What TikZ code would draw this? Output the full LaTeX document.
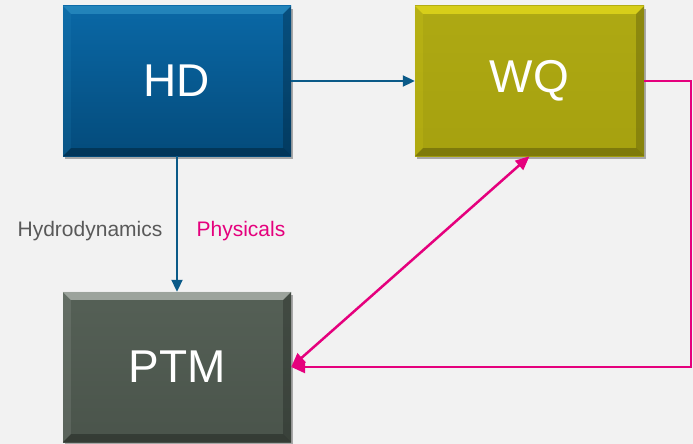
\documentclass[tikz,border=0pt]{standalone}
\usepackage{fontspec}
\setmainfont{Liberation Sans}
\usetikzlibrary{arrows.meta,shadows}
\definecolor{bg}{HTML}{F2F2F2}
\definecolor{hdtop}{HTML}{0A68A6}
\definecolor{hdbot}{HTML}{044B7B}
\definecolor{wqtop}{HTML}{AEA913}
\definecolor{wqbot}{HTML}{A6A10F}
\definecolor{ptmtop}{HTML}{556056}
\definecolor{ptmbot}{HTML}{4A544B}
\definecolor{bluearrow}{HTML}{0B5A88}
\definecolor{pinkarrow}{HTML}{E5007D}
\definecolor{labelgray}{HTML}{595959}
\newcommand\bevelbox[3]{%
  \fill[#2,opacity=0.7] (#1.north west) -- (#1.north east) -- ([xshift=-8pt,yshift=-8pt]#1.north east) -- ([xshift=8pt,yshift=-8pt]#1.north west) -- cycle;
  \fill[#2,opacity=0.15] (#1.north west) -- ([xshift=8pt,yshift=-8pt]#1.north west) -- ([xshift=8pt,yshift=8pt]#1.south west) -- (#1.south west) -- cycle;
  \fill[#3,opacity=0.3] (#1.north east) -- ([xshift=-8pt,yshift=-8pt]#1.north east) -- ([xshift=-8pt,yshift=8pt]#1.south east) -- (#1.south east) -- cycle;
  \fill[#3,opacity=0.4] (#1.south west) -- ([xshift=8pt,yshift=8pt]#1.south west) -- ([xshift=-8pt,yshift=8pt]#1.south east) -- (#1.south east) -- cycle;
}
\tikzset{
  modelbox/.style={minimum width=228pt, minimum height=150pt, inner sep=0pt,
    drop shadow={shadow xshift=2pt, shadow yshift=-3pt, opacity=0.3, fill=black}},
  modeltext/.style={inner sep=0pt, text=white, font=\fontsize{46}{50}\selectfont},
  bluearr/.style={draw=bluearrow, line width=2pt, -{Triangle[length=12pt,width=11pt]}},
  pinkline/.style={draw=pinkarrow, line width=2.5pt},
  pinkarr/.style={pinkline, {Triangle[length=14pt,width=12pt]}-{Triangle[length=14pt,width=12pt]}},
  pinkend/.style={pinkline, -{Triangle[length=14pt,width=12pt]}},
  lbl/.style={font=\fontsize{21}{24}\selectfont, inner sep=0pt}
}
\begin{document}
\begin{tikzpicture}[x=1pt,y=-1pt]
\fill[bg] (0,0) rectangle (693,444);
\useasboundingbox (0,0) rectangle (693,444);
\node[modelbox, top color=hdtop, bottom color=hdbot] (HD) at (177,81) {};
\node[modelbox, minimum width=229pt, top color=wqtop, bottom color=wqbot] (WQ) at (529.5,81) {};
\node[modelbox, top color=ptmtop, bottom color=ptmbot] (PTM) at (177,367) {};
\bevelbox{HD}{cyan!50!hdtop}{black!70!hdbot}
\bevelbox{WQ}{yellow!70!wqtop}{black!60!wqbot}
\bevelbox{PTM}{white!60!ptmtop}{black!70!ptmbot}
\node[modeltext] (HDt) at (HD) {HD};
\node[modeltext] (WQt) at (WQ) {WQ};
\node[modeltext] (PTMt) at (PTM) {PTM};
\coordinate (c1) at (691,81);
\coordinate (c2) at (691,367);
\path[bluearr] (HD.east) -- (WQ.west);
\path[bluearr] (HD.south) -- (PTM.north);
\path[pinkend, line join=miter] (WQ.east) -- (c1) -- (c2) -- (PTM.east);
\path[pinkarr] (PTM.east) -- (WQ.south);
\node[lbl, text=labelgray] (hyd) at (90,231) {Hydrodynamics};
\node[lbl, text=pinkarrow] (phy) at (241,231) {Physicals};
\end{tikzpicture}
\end{document}
